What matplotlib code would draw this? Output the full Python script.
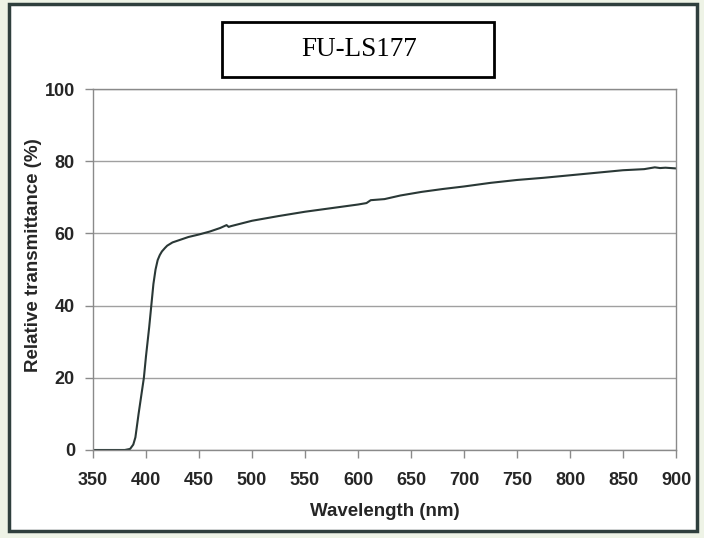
import numpy as np
import matplotlib.pyplot as plt
from matplotlib.patches import Rectangle

# Transmittance curve of the FU-LS177 filter
wavelength = [350, 380, 385, 388, 390, 393, 395, 398, 400, 403, 405, 407, 409,
              411, 413, 415, 418, 420, 425, 430, 440, 450, 460, 470, 476, 478,
              480, 500, 525, 550, 575, 600, 608, 612, 625, 640, 660, 680, 700,
              725, 750, 775, 800, 825, 850, 870, 880, 885, 890, 900]
transmittance = [0, 0, 0.3, 1.5, 3.5, 10, 14, 20, 26, 34, 40, 46, 50,
                 52.6, 54, 55, 56, 56.6, 57.5, 58, 59, 59.7, 60.5, 61.5, 62.3, 61.8,
                 62, 63.5, 64.8, 66, 67, 68, 68.4, 69.2, 69.5, 70.5, 71.5, 72.3, 73,
                 74, 74.8, 75.4, 76.1, 76.8, 77.5, 77.8, 78.3, 78.1, 78.2, 78]

x_ticks = np.arange(350, 901, 50)
y_ticks = [0, 20, 40, 60, 80, 100]

fig = plt.figure(figsize=(7.04, 5.38), dpi=100)
fig.patch.set_facecolor("#eef3e6")

# white panel with dark border, behind everything
W, H = 704, 538
panel = Rectangle((9 / W, (H - 531) / H), (697 - 9) / W, (531 - 4) / H,
                  transform=fig.transFigure, facecolor="white",
                  edgecolor="#2f3f3d", linewidth=2.5, zorder=-10)
fig.add_artist(panel)

ax = fig.add_axes([93 / W, 1 - 450 / H, (676 - 93) / W, (450 - 89) / H])
ax.set_zorder(1)
ax.plot(wavelength, transmittance, color="#2a3836", linewidth=1.5)

ax.set_xlim(350, 900)
ax.set_ylim(0, 100)
ax.set_xticks(x_ticks)
ax.set_yticks(y_ticks)
ax.grid(axis="y", color="#a0a0a0", linewidth=1)
ax.set_axisbelow(True)
for s in ax.spines.values():
    s.set_color("#8a8a8a")
    s.set_linewidth(1)
ax.tick_params(colors="#8a8a8a", length=6, width=1, labelcolor="#262626",
               labelsize=13)
ax.tick_params(axis="x", pad=10)
ax.tick_params(axis="y", pad=7)
for lab in ax.get_xticklabels() + ax.get_yticklabels():
    lab.set_fontfamily("Liberation Sans")
    lab.set_fontweight("bold")

ax.set_xlabel("Wavelength (nm)", fontsize=13.5, fontweight="bold",
              family="Liberation Sans", color="#262626", labelpad=10)
ax.set_ylabel("Relative transmittance (%)", fontsize=13.5, fontweight="bold",
              family="Liberation Sans", color="#262626")
ax.yaxis.set_label_coords(-0.088, 0.54)

# title in a box
box = Rectangle((222 / W, 1 - 77 / H), (494 - 222) / W, (77 - 22) / H,
                transform=fig.transFigure, facecolor="white",
                edgecolor="black", linewidth=2, zorder=2)
fig.add_artist(box)
fig.text(359 / W, 1 - 50 / H, "FU-LS177", ha="center", va="center",
         fontsize=19.5, family="Liberation Serif", color="black", zorder=3)

fig.savefig("out.png", dpi=100, facecolor=fig.get_facecolor())
